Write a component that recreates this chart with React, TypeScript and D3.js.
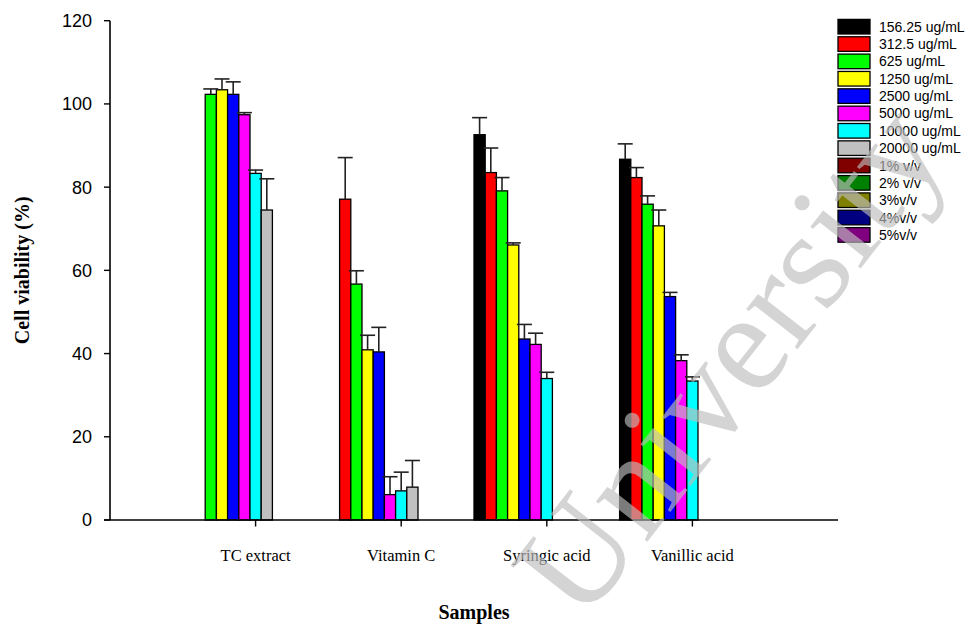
import React from "react";
import * as d3 from "d3";

const categories = ["TC extract", "Vitamin C", "Syringic acid", "Vanillic acid"];

const seriesLabels = [
  "156.25 ug/mL", "312.5 ug/mL", "625 ug/mL", "1250 ug/mL", "2500 ug/mL",
  "5000 ug/mL", "10000 ug/mL", "20000 ug/mL", "1% v/v", "2% v/v",
  "3%v/v", "4%v/v", "5%v/v",
];

const seriesColors = [
  "#000000", "#ff0000", "#00ff00", "#ffff00", "#0000ff", "#ff00ff", "#00ffff",
  "#c0c0c0", "#800000", "#008000", "#808000", "#000080", "#800080",
];

type V = number | null;
// values per series, in category order
const v156: V[] = [null, null, 92.6, 86.7];
const v312: V[] = [null, 77.1, 83.5, 82.3];
const v625: V[] = [102.3, 56.7, 79.1, 75.9];
const v1250: V[] = [103.4, 40.9, 66.1, 70.7];
const v2500: V[] = [102.3, 40.4, 43.5, 53.7];
const v5000: V[] = [97.4, 6.1, 42.2, 38.3];
const v10000: V[] = [83.3, 7.0, 34.0, 33.4];
const v20000: V[] = [74.5, 7.9, null, null];
const vEmpty: V[] = [null, null, null, null];

const e156: V[] = [null, null, 4.1, 3.7];
const e312: V[] = [null, 10.0, 5.9, 2.4];
const e625: V[] = [1.3, 3.2, 3.2, 2.0];
const e1250: V[] = [2.6, 3.5, 0.5, 3.8];
const e2500: V[] = [3.0, 5.9, 3.5, 1.0];
const e5000: V[] = [0.5, 4.3, 2.7, 1.4];
const e10000: V[] = [0.8, 4.5, 1.5, 1.0];
const e20000: V[] = [7.5, 6.4, null, null];

const seriesValues = [v156, v312, v625, v1250, v2500, v5000, v10000, v20000, vEmpty, vEmpty, vEmpty, vEmpty, vEmpty];
const seriesErrors = [e156, e312, e625, e1250, e2500, e5000, e10000, e20000, vEmpty, vEmpty, vEmpty, vEmpty, vEmpty];

const yTicks = [0, 20, 40, 60, 80, 100, 120];

export default function App() {
  const W = 966, H = 625;
  const left = 110, right = 838, top = 20.7, bottom = 520;
  const x = d3.scaleLinear().domain([0, categories.length + 1]).range([left, right]);
  const y = d3.scaleLinear().domain([0, 120]).range([bottom, top]);
  const half = (x(1) - x(0)) / 2;
  const band = d3.scaleBand<number>().domain(d3.range(seriesLabels.length)).range([-half, half]).padding(0);
  const bw = band.bandwidth();

  const legendX = 838, legendY0 = 26.7, legendStep = 17.35;

  return (
    <svg width={W} height={H} style={{ position: "absolute", left: 0, top: 0, background: "#fff" }}>
      <rect x={0} y={0} width={W} height={H} fill="#fff" />
      {/* bars */}
      {seriesValues.map((vals, s) =>
        vals.map((v, c) => {
          if (v == null) return null;
          const bx = x(c + 1) + (band(s) as number);
          return (
            <rect key={`b${s}-${c}`} x={bx} y={y(v)} width={bw} height={y(0) - y(v)}
              fill={seriesColors[s]} stroke="#000" strokeWidth={1.3} />
          );
        })
      )}
      {/* error bars */}
      {seriesValues.map((vals, s) =>
        vals.map((v, c) => {
          const e = seriesErrors[s][c];
          if (v == null || e == null) return null;
          const cx = x(c + 1) + (band(s) as number) + bw / 2;
          return (
            <g key={`e${s}-${c}`} stroke="#222" strokeWidth={1.6}>
              <line x1={cx} x2={cx} y1={y(v)} y2={y(v + e)} />
              <line x1={cx - 7.5} x2={cx + 7.5} y1={y(v + e)} y2={y(v + e)} />
            </g>
          );
        })
      )}
      {/* y axis */}
      <line x1={left} x2={left} y1={top} y2={bottom} stroke="#000" strokeWidth={1.6} />
      {yTicks.map((t) => (
        <g key={`yt${t}`}>
          <line x1={left - 6} x2={left} y1={y(t)} y2={y(t)} stroke="#000" strokeWidth={1.4} />
          <text x={92} y={y(t) + 6.4} textAnchor="end" fontFamily="Liberation Sans, Arial, sans-serif" fontSize={18} fill="#000">{t}</text>
        </g>
      ))}
      {/* x axis */}
      <line x1={left - 6} x2={right} y1={bottom} y2={bottom} stroke="#000" strokeWidth={1.6} />
      {categories.map((c, i) => (
        <g key={`xt${i}`}>
          <line x1={x(i + 1)} x2={x(i + 1)} y1={bottom} y2={bottom + 6.5} stroke="#000" strokeWidth={1.4} />
          <text x={x(i + 1)} y={561} textAnchor="middle" fontFamily="Liberation Serif, Times New Roman, serif" fontSize={16.5} fill="#000">{c}</text>
        </g>
      ))}
      {/* axis titles */}
      <text x={(left + right) / 2} y={619} textAnchor="middle" fontFamily="Liberation Serif, Times New Roman, serif" fontWeight="bold" fontSize={20} fill="#000">Samples</text>
      <text transform={`translate(29, ${(top + bottom) / 2}) rotate(-90)`} textAnchor="middle" fontFamily="Liberation Serif, Times New Roman, serif" fontWeight="bold" fontSize={20} fill="#000">Cell viability (%)</text>
      {/* legend */}
      {seriesLabels.map((lab, i) => {
        const cy = legendY0 + i * legendStep;
        return (
          <g key={`lg${i}`}>
            <rect x={legendX} y={cy - 7.3} width={32} height={14.6} fill={seriesColors[i]} stroke="#000" strokeWidth={1.3} />
            <text x={879} y={cy + 5} fontFamily="Liberation Sans, Arial, sans-serif" fontSize={14} fill="#000">{lab}</text>
          </g>
        );
      })}
      {/* watermark */}
      <text transform="translate(582, 625) rotate(-52)" fontFamily="Liberation Serif, Times New Roman, serif" fontSize={142} fill="#bdbdbd" fillOpacity={0.65}>University</text>
    </svg>
  );
}
